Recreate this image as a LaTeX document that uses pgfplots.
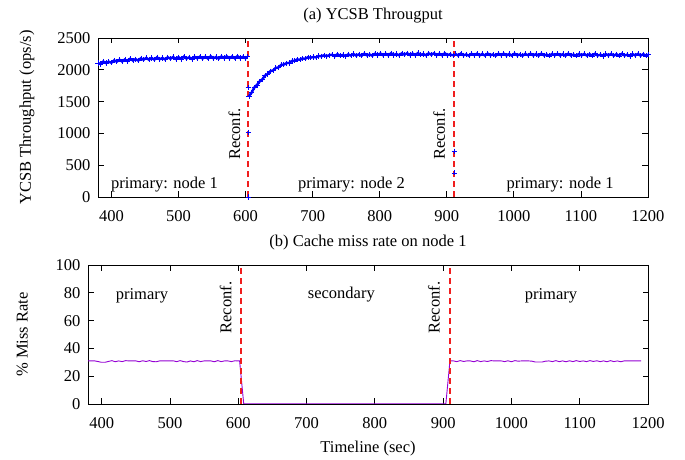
\documentclass[border=0pt]{standalone}
\usepackage{fontspec}
\setmainfont{Liberation Serif}
\usepackage{pgfplots}
\pgfplotsset{compat=1.18}
\definecolor{mblue}{RGB}{0,0,255}
\definecolor{mpurple}{RGB}{148,0,211}
\definecolor{mred}{RGB}{240,30,30}
\pgfplotsset{
  every axis/.append style={
    font=\fontsize{16.5bp}{20bp}\selectfont,
    scale only axis,
    axis line style={line width=0.8bp},
    every tick/.style={black, line width=0.8bp},
    major tick length=5.5bp,
    tick align=inside,
    xtick pos=both, ytick pos=both,
    /pgf/number format/assume math mode=true,
    /pgf/number format/1000 sep={},
    xmin=380, xmax=1200,
    xtick={400,500,...,1200},
    x tick label style={yshift=-10bp},
    y tick label style={xshift=-4bp},
    title style={anchor=base, at={(0.5,1)}, yshift=13bp},
  },
  reconf/.style={color=mred, solid, line width=1.6bp, dash pattern=on 6bp off 4bp, mark=none},
  band/.style={color=mblue, line width=2.4bp, mark=+, mark size=2.6bp, mark options={solid, line width=0.6bp}},
  outl/.style={only marks, color=mblue, mark=+, mark size=2.6bp, mark options={solid, line width=0.6bp}},
}
\begin{document}
\begin{tikzpicture}
\useasboundingbox (0,0) rectangle (685bp,460bp);
% ---------------- top axis ----------------
\begin{axis}[
  at={(98bp,263bp)}, anchor=south west,
  width=550bp, height=159bp,
  ymin=0, ymax=2500, ytick={0,500,...,2500},
  title={(a) YCSB Througput},
  ylabel={YCSB Throughput (ops/s)},
  ylabel style={at={(axis description cs:-0.109,0.5)}},
]
\addplot[reconf] coordinates {(604,0) (604,2500)};
\addplot[reconf] coordinates {(911,0) (911,2500)};
\addplot[band] coordinates {
(380,2108)(384,2090)(388,2130)(392,2106)(396,2128)(400,2110)(404,2148)(408,2128)(412,2158)(416,2130)
(420,2162)(424,2136)(428,2174)(432,2146)(436,2168)(440,2145)(444,2181)(448,2158)(452,2188)(456,2158)
(460,2187)(464,2159)(468,2196)(472,2166)(476,2187)(480,2163)(484,2197)(488,2173)(492,2201)(496,2171)
(500,2199)(504,2171)(508,2206)(512,2176)(516,2196)(520,2171)(524,2205)(528,2180)(532,2208)(536,2177)
(540,2205)(544,2176)(548,2212)(552,2181)(556,2201)(560,2176)(564,2209)(568,2185)(572,2212)(576,2181)
(580,2209)(584,2180)(588,2215)(592,2185)(596,2204)(600,2182)(602,2205)
};
\addplot[band] coordinates {
(605,1586)(609,1640)(613,1720)(617,1762)(621,1817)(625,1850)(629,1908)(633,1934)(637,1978)(641,1991)
(645,2029)(649,2038)(653,2077)(657,2082)(661,2105)(665,2108)(669,2139)(673,2141)(677,2164)(681,2158)
(685,2179)(689,2173)(693,2198)(697,2190)(701,2202)(705,2195)(709,2218)(713,2212)(717,2228)(721,2215)
(725,2230)(729,2237)(733,2214)(737,2246)(741,2219)(745,2234)(749,2215)(753,2243)(757,2224)(761,2249)
(765,2222)(769,2244)(773,2221)(777,2254)(781,2227)(785,2241)(789,2222)(793,2253)(797,2232)(801,2256)
(805,2229)(809,2252)(813,2228)(817,2261)(821,2234)(825,2248)(829,2229)(833,2259)(837,2237)(841,2261)
(845,2233)(849,2255)(853,2231)(857,2263)(861,2235)(865,2249)(869,2229)(873,2258)(877,2236)(881,2260)
(885,2231)(889,2253)(893,2228)(897,2260)(901,2231)(905,2245)(909,2224)
};
\addplot[band] coordinates {
(913,2250)(917,2224)(921,2256)(925,2228)(929,2242)(933,2222)(937,2252)(941,2230)(945,2254)(949,2226)
(953,2250)(957,2224)(961,2256)(965,2228)(969,2242)(973,2222)(977,2252)(981,2230)(985,2254)(989,2226)
(993,2249)(997,2223)(1001,2255)(1005,2227)(1009,2241)(1013,2221)(1017,2251)(1021,2229)(1025,2253)(1029,2225)
(1033,2248)(1037,2222)(1041,2254)(1045,2226)(1049,2240)(1053,2220)(1057,2250)(1061,2228)(1065,2252)(1069,2224)
(1073,2247)(1077,2221)(1081,2253)(1085,2225)(1089,2239)(1093,2219)(1097,2249)(1101,2227)(1105,2251)(1109,2223)
(1113,2246)(1117,2220)(1121,2252)(1125,2224)(1129,2238)(1133,2218)(1137,2248)(1141,2226)(1145,2250)(1149,2222)
(1153,2246)(1157,2220)(1161,2252)(1165,2224)(1169,2238)(1173,2218)(1177,2248)(1181,2226)(1185,2250)(1189,2222)
(1193,2246)(1197,2220)(1200,2240)
};
\addplot[outl] coordinates {(604,1720)(604,1020)(604,0)};
\addplot[outl] coordinates {(911,720)};
\addplot[outl] coordinates {(911,380)};
\node[anchor=base] at (axis cs:479,126) {primary: node 1};
\node[anchor=base] at (axis cs:758,126) {primary: node 2};
\node[anchor=base] at (axis cs:1069,126) {primary: node 1};
\node[rotate=90, anchor=base] at (axis cs:592,990) {Reconf.};
\node[rotate=90, anchor=base] at (axis cs:897,990) {Reconf.};
\end{axis}
% ---------------- bottom axis ----------------
\begin{axis}[
  at={(88bp,56bp)}, anchor=south west,
  width=560bp, height=139bp,
  ymin=0, ymax=100, ytick={0,20,...,100},
  title={(b) Cache miss rate on node 1},
  ylabel={\% Miss Rate},
  ylabel style={at={(axis description cs:-0.101,0.5)}},
  xlabel={Timeline (sec)},
  xlabel style={yshift=-6bp},
]
\addplot[mpurple, line width=0.9bp] coordinates {
(380,31.0)(385,31.0)(390,31.0)(395,30.5)(400,30.0)(405,30.0)(410,30.6)(415,31.2)(420,30.4)(425,31.0)
(430,30.5)(435,31.2)(440,31.0)(445,31.0)(450,31.0)(455,30.4)(460,31.1)(465,30.6)(470,31.2)(475,30.5)
(480,30.4)(485,31.0)(490,31.0)(495,31.0)(500,31.0)(505,31.0)(510,30.5)(515,31.2)(520,30.5)(525,30.2)
(530,31.0)(535,30.4)(540,31.2)(545,30.5)(550,31.0)(555,31.0)(560,31.0)(565,30.4)(570,31.2)(575,30.5)
(580,31.0)(585,31.0)(590,30.5)(595,31.1)(600,31.0)(602,31.0)
(608,0.2)(650,0.2)(700,0.2)(750,0.2)(800,0.2)(850,0.2)(904,0.2)
(910,31.0)(915,31.0)(920,30.5)(925,31.2)(930,30.6)(935,31.0)(940,31.0)(945,30.4)(950,31.2)(955,30.5)
(960,31.0)(965,30.6)(970,31.2)(975,31.0)(980,31.0)(985,31.0)(990,30.5)(995,31.1)(1000,30.4)(1005,31.2)
(1010,30.8)(1015,31.0)(1020,31.0)(1025,31.0)(1030,30.8)(1035,30.2)(1040,30.2)(1045,30.2)(1050,30.8)(1055,31.0)
(1060,30.5)(1065,31.2)(1070,30.5)(1075,31.0)(1080,30.4)(1085,31.1)(1090,30.5)(1095,31.2)(1100,30.6)(1105,31.0)
(1110,30.5)(1115,31.2)(1120,30.6)(1125,31.1)(1130,30.5)(1135,31.0)(1140,30.4)(1145,31.2)(1150,30.5)(1155,31.0)
(1160,30.4)(1165,31.0)(1170,31.0)(1175,31.0)(1180,31.0)(1185,31.0)(1190,31.0)
};
\addplot[reconf] coordinates {(604,0) (604,100)};
\addplot[reconf] coordinates {(910,0) (910,100)};
\node[anchor=base] at (axis cs:459,75.5) {primary};
\node[anchor=base] at (axis cs:751,76) {secondary};
\node[anchor=base] at (axis cs:1058,75.5) {primary};
\node[rotate=90, anchor=base] at (axis cs:590,69.4) {Reconf.};
\node[rotate=90, anchor=base] at (axis cs:895,69.4) {Reconf.};
\end{axis}
\end{tikzpicture}
\end{document}
